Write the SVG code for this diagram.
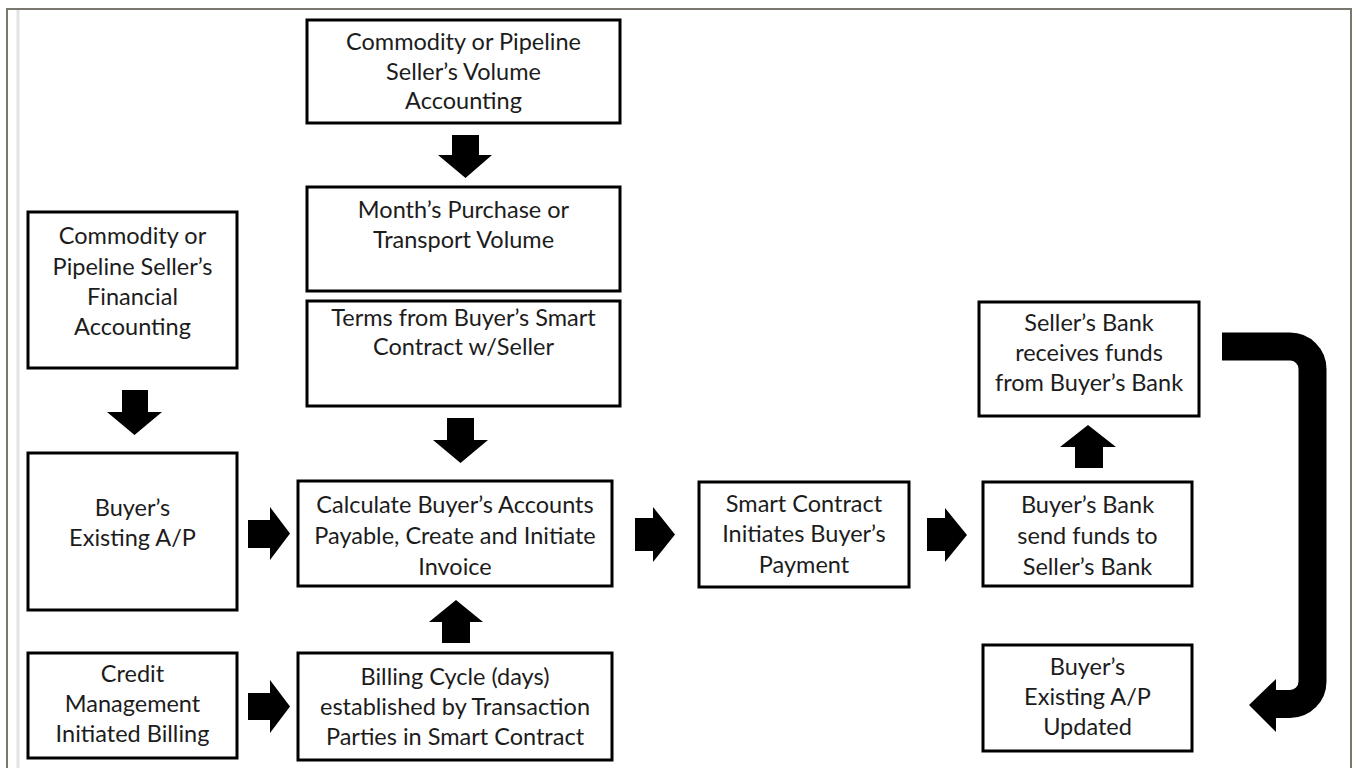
<svg xmlns="http://www.w3.org/2000/svg" width="1354" height="768" viewBox="0 0 1354 768">
<style>
.box{fill:#fff;stroke:#000;stroke-width:3}
.t{font-family:Lato,"Liberation Sans",sans-serif;font-size:23.5px;fill:#1c1c1c;text-anchor:middle}
.arr{fill:#000;stroke:none}
</style>
<rect x="0" y="0" width="1354" height="768" fill="#fff"/>
<g id="frame">
<line x1="18" y1="10" x2="18" y2="768" stroke="#e4e4e4" stroke-width="3"/>
<polyline points="7,768 7,9 1351,9 1351,768" fill="none" stroke="#7a776e" stroke-width="2"/>
</g>
<g id="n-volume-accounting">
<rect class="box" x="307" y="20" width="313" height="103"/>
<text class="t" x="463.5" y="50">Commodity or Pipeline</text>
<text class="t" x="463.5" y="80">Seller’s Volume</text>
<text class="t" x="463.5" y="109">Accounting</text>
</g>
<g id="n-month-volume">
<rect class="box" x="307" y="187" width="313" height="104"/>
<text class="t" x="463.5" y="218">Month’s Purchase or</text>
<text class="t" x="463.5" y="248">Transport Volume</text>
</g>
<g id="n-terms">
<rect class="box" x="307" y="301" width="313" height="105"/>
<text class="t" x="463.5" y="326">Terms from Buyer’s Smart</text>
<text class="t" x="463.5" y="355">Contract w/Seller</text>
</g>
<g id="n-financial-accounting">
<rect class="box" x="28" y="212" width="209" height="156"/>
<text class="t" x="132.5" y="244">Commodity or</text>
<text class="t" x="132.5" y="275">Pipeline Seller’s</text>
<text class="t" x="132.5" y="305">Financial</text>
<text class="t" x="132.5" y="335">Accounting</text>
</g>
<g id="n-existing-ap">
<rect class="box" x="28" y="453" width="209" height="157"/>
<text class="t" x="132.5" y="516">Buyer’s</text>
<text class="t" x="132.5" y="546">Existing A/P</text>
</g>
<g id="n-credit-mgmt">
<rect class="box" x="28" y="653" width="209" height="105"/>
<text class="t" x="132.5" y="682">Credit</text>
<text class="t" x="132.5" y="712">Management</text>
<text class="t" x="132.5" y="742">Initiated Billing</text>
</g>
<g id="n-calculate">
<rect class="box" x="298" y="481" width="314" height="105"/>
<text class="t" x="455" y="513">Calculate Buyer’s Accounts</text>
<text class="t" x="455" y="544">Payable, Create and Initiate</text>
<text class="t" x="455" y="575">Invoice</text>
</g>
<g id="n-billing-cycle">
<rect class="box" x="298" y="653" width="314" height="107"/>
<text class="t" x="455" y="685">Billing Cycle (days)</text>
<text class="t" x="455" y="715">established by Transaction</text>
<text class="t" x="455" y="745">Parties in Smart Contract</text>
</g>
<g id="n-smart-contract">
<rect class="box" x="699" y="482" width="210" height="105"/>
<text class="t" x="804" y="512">Smart Contract</text>
<text class="t" x="804" y="542">Initiates Buyer’s</text>
<text class="t" x="804" y="573">Payment</text>
</g>
<g id="n-buyers-bank">
<rect class="box" x="983" y="482" width="209" height="104"/>
<text class="t" x="1087.5" y="513">Buyer’s Bank</text>
<text class="t" x="1087.5" y="544">send funds to</text>
<text class="t" x="1087.5" y="575">Seller’s Bank</text>
</g>
<g id="n-sellers-bank">
<rect class="box" x="979" y="302" width="220" height="114"/>
<text class="t" x="1089" y="331">Seller’s Bank</text>
<text class="t" x="1089" y="361">receives funds</text>
<text class="t" x="1089" y="391">from Buyer’s Bank</text>
</g>
<g id="n-ap-updated">
<rect class="box" x="983" y="645" width="209" height="106"/>
<text class="t" x="1087.5" y="675">Buyer’s</text>
<text class="t" x="1087.5" y="705">Existing A/P</text>
<text class="t" x="1087.5" y="735">Updated</text>
</g>
<g id="connectors">
<polygon class="arr" points="452,135 479,135 479,155 492,155 465.5,178 438,155 452,155"/>
<polygon class="arr" points="122,390 148,390 148,412 162,412 134.5,435 107,412 122,412"/>
<polygon class="arr" points="447,418 474,418 474,440 488,440 460.5,463 433,440 447,440"/>
<polygon class="arr" points="442,643 470,643 470,622 483,622 456,600 429,622 442,622"/>
<polygon class="arr" points="1075,468 1103,468 1103,447 1116,447 1088,425 1060,447 1075,447"/>
<polygon class="arr" points="248,520 270,520 270,507 290,533.5 270,560 270,548 248,548"/>
<polygon class="arr" points="248,693 270,693 270,680 290,706.5 270,733 270,720 248,720"/>
<polygon class="arr" points="635,518 653,518 653,507 675,534.5 653,562 653,551 635,551"/>
<polygon class="arr" points="927,518 945,518 945,508 967,535 945,562 945,551 927,551"/>
<path d="M1222,346.5 H1290 A22.5,22.5 0 0 1 1312.5,369 V681.5 A22.5,22.5 0 0 1 1290,704 H1274" fill="none" stroke="#000" stroke-width="28"/>
<polygon class="arr" points="1249,705 1276,679 1276,732"/>
</g>
</svg>
